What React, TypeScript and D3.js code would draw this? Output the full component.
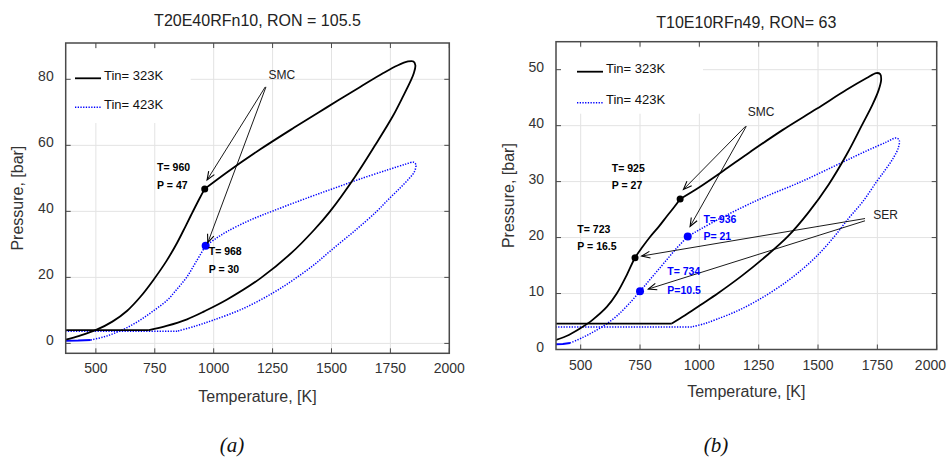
import React from "react";
import * as d3 from "d3";

type Pt = [number, number];

// ---------- shared ----------
const xTicks = [500, 750, 1000, 1250, 1500, 1750, 2000];
const legendLabels = ["Tin= 323K", "Tin= 423K"];
const xAxisTitle = "Temperature, [K]";
const yAxisTitle = "Pressure, [bar]";

// ---------- panel (a) ----------
const titleA = "T20E40RFn10, RON = 105.5";
const yTicksA = [0, 20, 40, 60, 80];
const aBlackCompression: Pt[] = [[372, 1.15], [430, 2.3], [499, 4.0], [570, 6.6], [633, 9.9], [690, 14.2], [742, 19.0], [800, 25.0], [845, 30.5], [880, 35.4], [910, 39.7], [940, 43.9], [962, 46.8]];
const aBlackPower: Pt[] = [[962, 46.8], [1060, 52.0], [1198, 58.8], [1340, 65.3], [1480, 71.5], [1620, 77.6], [1720, 81.9], [1780, 84.2], [1825, 85.4], [1848, 85.4], [1856, 84.2], [1850, 82], [1836, 79.5], [1800, 74.3], [1760, 68.8], [1685, 60], [1600, 50.5], [1494, 40], [1424, 34.2], [1330, 27.4], [1198, 19.7], [1057, 13.3], [960, 9.7], [887, 7.3], [800, 5.3], [725, 4.03]];
const aBlackExhaust: Pt[] = [[725, 4.03], [372, 4.03]];
const aBlueIntake: Pt[] = [[372, 0.8], [425, 0.85], [478, 1.05]];
const aBlueCompression: Pt[] = [[478, 1.05], [530, 1.9], [576, 3.0], [630, 4.7], [689, 7.1], [745, 9.9], [803, 13.1], [845, 16.5], [887, 20.2], [925, 24.7], [966, 29.6]];
const aBluePower: Pt[] = [[966, 29.6], [1010, 31.8], [1057, 33.9], [1150, 37.2], [1254, 40.2], [1410, 44.4], [1523, 47.3], [1621, 49.8], [1740, 52.6], [1815, 54.3], [1848, 54.9], [1858, 54.2], [1852, 52], [1830, 50], [1790, 47], [1740, 43.5], [1692, 40], [1600, 34.2], [1500, 28.3], [1424, 23.7], [1339, 19.3], [1254, 15.4], [1130, 10.7], [1000, 7.1], [920, 5.2], [845, 3.7]];
const aBlueExhaust: Pt[] = [[845, 3.7], [372, 3.7]];
const aBlackDots: Pt[] = [[962, 46.8]];
const aBlueDots: Pt[] = [[966, 29.6]];
const aLabelText = ["SMC", "T= 960", "P = 47", "T= 968", "P = 30"];
const aLabelPos: Pt[] = [[1233, 80.1], [760, 52.2], [760, 46.9], [979, 26.8], [979, 21.3]];
const aArrowFrom: Pt[] = [[1219, 77.7], [1222, 77.7]];
const aArrowTo: Pt[] = [[972, 49.5], [975, 30.5]];

// ---------- panel (b) ----------
const titleB = "T10E10RFn49, RON= 63";
const yTicksB = [0, 10, 20, 30, 40, 50];
const bBlackCompression: Pt[] = [[396, 1.7], [450, 2.6], [497, 3.75], [550, 5.3], [610, 7.6], [652, 10], [694, 13.3], [729, 16.4], [760, 18.3], [792, 20.1], [830, 22], [863, 23.8], [895, 25.5], [919, 26.9]];
const bBlackPower: Pt[] = [[919, 26.9], [1000, 29], [1100, 31.9], [1214, 35.3], [1350, 39.2], [1494, 43], [1620, 46.4], [1705, 48.5], [1745, 49.4], [1762, 49.2], [1766, 48.2], [1755, 46.3], [1730, 43.8], [1684, 40], [1620, 34.8], [1545, 29.5], [1460, 24.5], [1375, 20.3], [1284, 16.8], [1180, 13.2], [1080, 10.1], [1003, 7.9], [940, 6.1], [884, 4.64]];
const bBlackExhaust: Pt[] = [[884, 4.64], [396, 4.64]];
const bBlueIntake: Pt[] = [[396, 0.95], [425, 0.97], [455, 1.15]];
const bBlueCompression: Pt[] = [[455, 1.15], [511, 2.2], [560, 3.3], [610, 4.6], [655, 6.1], [700, 8.0], [750, 10.4], [800, 12.9], [850, 15.4], [900, 17.9], [951, 20.2]];
const bBluePower: Pt[] = [[951, 20.2], [1073, 23.1], [1256, 26.9], [1430, 30], [1600, 33.4], [1705, 35.5], [1790, 37.1], [1828, 37.8], [1842, 37.4], [1838, 36], [1817, 34.2], [1785, 32.2], [1747, 30], [1690, 26.5], [1630, 23.5], [1565, 20], [1490, 16.5], [1410, 13.5], [1330, 11.0], [1242, 8.7], [1160, 6.9], [1073, 5.4], [1020, 4.6], [968, 4.04]];
const bBlueExhaust: Pt[] = [[968, 4.04], [396, 4.04]];
const bBlackDots: Pt[] = [[919, 26.9], [729, 16.4]];
const bBlueDots: Pt[] = [[951, 20.2], [750, 10.4]];
const bLabelText = ["SMC", "T= 925", "P = 27", "T= 723", "P = 16.5", "T= 936", "P= 21", "T= 734", "P=10.5", "SER"];
const bLabelPos: Pt[] = [[1204, 41.7], [631, 31.7], [631, 28.7], [486, 20.8], [486, 17.7], [1017, 22.6], [1017, 19.5], [865, 13.3], [865, 9.9], [1733, 23.4]];
const bArrowFrom: Pt[] = [[1195, 39.9], [1198, 39.9], [1698, 23.4], [1698, 23.0]];
const bArrowTo: Pt[] = [[933, 28.6], [961, 22], [757, 16.7], [785, 10.8]];

const FONT = "Arial, 'Liberation Sans', Helvetica, sans-serif";
const BLUE = "#0000ff";
const W = 947;

type Cfg = {
  id: string;
  left: number; right: number; top: number; bottom: number;
  xDomain: [number, number]; yDomain: [number, number];
  yTicks: number[]; title: string; titleY: number;
  black: { smooth: Pt[][]; straight: Pt[][] };
  blue: { smooth: Pt[][]; straight: Pt[][]; solid: Pt[][] };
  blackDots: Pt[]; blueDots: Pt[];
  labelText: string[]; labelPos: Pt[]; labelStyle: ("normal" | "bold" | "blue")[];
  arrowFrom: Pt[]; arrowTo: Pt[];
  legendW: number; legendH: number; legendLineX: number; legendY: number[];
  yTitleX: number; xTitleY: number; caption: string; captionX: number;
};

function Panel({ c }: { c: Cfg }) {
  const x = d3.scaleLinear().domain(c.xDomain).range([c.left, c.right]);
  const y = d3.scaleLinear().domain(c.yDomain).range([c.bottom, c.top]);
  const smooth = d3.line<Pt>().x(d => x(d[0])).y(d => y(d[1])).curve(d3.curveCatmullRom.alpha(0.5));
  const straight = d3.line<Pt>().x(d => x(d[0])).y(d => y(d[1]));
  const cx = (c.left + c.right) / 2;
  const cy = (c.top + c.bottom) / 2;
  const tick = 5;
  const axisColor = "#4a4a4a";

  const arrowHead = (f: Pt, t: Pt) => {
    const x1 = x(f[0]), y1 = y(f[1]), x2 = x(t[0]), y2 = y(t[1]);
    const ang = Math.atan2(y1 - y2, x1 - x2);
    const L = 9, a = 0.38;
    return `M${x2 + L * Math.cos(ang + a)},${y2 + L * Math.sin(ang + a)}L${x2},${y2}L${x2 + L * Math.cos(ang - a)},${y2 + L * Math.sin(ang - a)}`;
  };

  return (
    <g>
      <defs>
        <clipPath id={`clip-${c.id}`}>
          <rect x={c.left} y={c.top} width={c.right - c.left} height={c.bottom - c.top} />
        </clipPath>
      </defs>
      <rect x={c.left} y={c.top} width={c.right - c.left} height={c.bottom - c.top} fill="#fff" />
      {xTicks.map(t => (
        <line key={`gx${t}`} x1={x(t)} x2={x(t)} y1={c.top} y2={c.bottom} stroke="#e3e3e3" strokeWidth={1} />
      ))}
      {c.yTicks.map(t => (
        <line key={`gy${t}`} x1={c.left} x2={c.right} y1={y(t)} y2={y(t)} stroke="#e3e3e3" strokeWidth={1} />
      ))}
      <rect x={c.left + 1} y={c.top + 6} width={c.legendW} height={c.legendH} fill="#fff" />
      {xTicks.map(t => {
        const tx = x(t);
        const nearEdge = tx + 16 > W;
        return (
          <g key={`tx${t}`}>
            <line x1={tx} x2={tx} y1={c.bottom} y2={c.bottom - tick} stroke={axisColor} />
            <line x1={tx} x2={tx} y1={c.top} y2={c.top + tick} stroke={axisColor} />
            <text x={nearEdge ? W - 1 : tx} y={c.bottom + 20} textAnchor={nearEdge ? "end" : "middle"} fontSize={14} fill="#333" fontFamily={FONT}>{t}</text>
          </g>
        );
      })}
      {c.yTicks.map(t => (
        <g key={`ty${t}`}>
          <line x1={c.left} x2={c.left + tick} y1={y(t)} y2={y(t)} stroke={axisColor} />
          <line x1={c.right} x2={c.right - tick} y1={y(t)} y2={y(t)} stroke={axisColor} />
          <text x={c.left - 12} y={y(t) + 2} textAnchor="end" fontSize={14} fill="#333" fontFamily={FONT}>{t}</text>
        </g>
      ))}
      <g clipPath={`url(#clip-${c.id})`}>
        {c.blue.solid.map((s, i) => (
          <path key={`bs${i}`} d={straight(s) || ""} fill="none" stroke={BLUE} strokeWidth={2} />
        ))}
        {c.blue.smooth.map((s, i) => (
          <path key={`bc${i}`} d={smooth(s) || ""} fill="none" stroke={BLUE} strokeWidth={1.5} strokeDasharray="1.3 1.4" />
        ))}
        {c.blue.straight.map((s, i) => (
          <path key={`bl${i}`} d={straight(s) || ""} fill="none" stroke={BLUE} strokeWidth={1.5} strokeDasharray="1.3 1.4" />
        ))}
        {c.black.smooth.map((s, i) => (
          <path key={`kc${i}`} d={smooth(s) || ""} fill="none" stroke="#000" strokeWidth={1.8} />
        ))}
        {c.black.straight.map((s, i) => (
          <path key={`kl${i}`} d={straight(s) || ""} fill="none" stroke="#000" strokeWidth={1.8} />
        ))}
      </g>
      <rect x={c.left} y={c.top} width={c.right - c.left} height={c.bottom - c.top} fill="none" stroke={axisColor} strokeWidth={1.5} />
      {c.blackDots.map((d, i) => (
        <circle key={`kd${i}`} cx={x(d[0])} cy={y(d[1])} r={3.5} fill="#000" />
      ))}
      {c.blueDots.map((d, i) => (
        <circle key={`bd${i}`} cx={x(d[0])} cy={y(d[1])} r={4} fill={BLUE} />
      ))}
      {c.arrowFrom.map((f, i) => (
        <g key={`ar${i}`}>
          <line x1={x(f[0])} y1={y(f[1])} x2={x(c.arrowTo[i][0])} y2={y(c.arrowTo[i][1])} stroke="#000" strokeWidth={0.9} />
          <path d={arrowHead(f, c.arrowTo[i])} fill="none" stroke="#000" strokeWidth={1.1} />
        </g>
      ))}
      {c.labelText.map((t, i) => {
        const st = c.labelStyle[i];
        return (
          <text key={`lb${i}`} x={x(c.labelPos[i][0])} y={y(c.labelPos[i][1])} fontFamily={FONT}
            fontSize={st === "normal" ? 12 : 10.5} fontWeight={st === "normal" ? "normal" : "bold"}
            fill={st === "blue" ? BLUE : st === "normal" ? "#222" : "#000"}>{t}</text>
        );
      })}
      <line x1={c.legendLineX} x2={c.legendLineX + 26} y1={c.legendY[0]} y2={c.legendY[0]} stroke="#000" strokeWidth={1.8} />
      <text x={c.legendLineX + 29} y={c.legendY[0] + 1.5} fontSize={13} fontFamily={FONT} fill="#111">{legendLabels[0]}</text>
      <line x1={c.legendLineX} x2={c.legendLineX + 26} y1={c.legendY[1]} y2={c.legendY[1]} stroke={BLUE} strokeWidth={1.5} strokeDasharray="1.3 1.4" />
      <text x={c.legendLineX + 29} y={c.legendY[1] + 1.5} fontSize={13} fontFamily={FONT} fill="#111">{legendLabels[1]}</text>
      <text x={cx} y={c.titleY} textAnchor="middle" fontSize={16} fontFamily={FONT} fill="#222">{c.title}</text>
      <text x={cx} y={c.xTitleY} textAnchor="middle" fontSize={16} fontFamily={FONT} fill="#333">{xAxisTitle}</text>
      <text transform={`translate(${c.yTitleX},${cy}) rotate(-90)`} textAnchor="middle" fontSize={16} fontFamily={FONT} fill="#333">{yAxisTitle}</text>
      <text x={c.captionX} y={452} textAnchor="middle" fontSize={21} fontStyle="italic" fontFamily="'Liberation Serif', 'DejaVu Serif', serif" fill="#111">{c.caption}</text>
    </g>
  );
}

export default function App() {
  const cfgA: Cfg = {
    id: "a", left: 65.7, right: 449.3, top: 43, bottom: 353.3,
    xDomain: [372, 2000], yDomain: [-3, 91], yTicks: yTicksA, title: titleA, titleY: 26,
    black: { smooth: [aBlackCompression, aBlackPower], straight: [aBlackExhaust] },
    blue: { smooth: [aBlueCompression, aBluePower], straight: [aBlueExhaust], solid: [aBlueIntake] },
    blackDots: aBlackDots, blueDots: aBlueDots,
    labelText: aLabelText, labelPos: aLabelPos, labelStyle: ["normal", "bold", "bold", "bold", "bold"],
    arrowFrom: aArrowFrom, arrowTo: aArrowTo,
    legendW: 124, legendH: 74, legendLineX: 75, legendY: [78.3, 107.3],
    yTitleX: 23, xTitleY: 402, caption: "(a)", captionX: 232,
  };
  const cfgB: Cfg = {
    id: "b", left: 556, right: 936.7, top: 41.7, bottom: 349.5,
    xDomain: [396, 2000], yDomain: [0, 55], yTicks: yTicksB, title: titleB, titleY: 28,
    black: { smooth: [bBlackCompression, bBlackPower], straight: [bBlackExhaust] },
    blue: { smooth: [bBlueCompression, bBluePower], straight: [bBlueExhaust], solid: [bBlueIntake] },
    blackDots: bBlackDots, blueDots: bBlueDots,
    labelText: bLabelText, labelPos: bLabelPos,
    labelStyle: ["normal", "bold", "bold", "bold", "bold", "blue", "blue", "blue", "blue", "normal"],
    arrowFrom: bArrowFrom, arrowTo: bArrowTo,
    legendW: 146, legendH: 66, legendLineX: 577, legendY: [71.7, 102.7],
    yTitleX: 514, xTitleY: 397, caption: "(b)", captionX: 716,
  };
  return (
    <svg width={W} height={459} style={{ position: "absolute", left: 0, top: 0, background: "#fff" }}>
      <rect width={W} height={459} fill="#fff" />
      <Panel c={cfgA} />
      <Panel c={cfgB} />
    </svg>
  );
}
